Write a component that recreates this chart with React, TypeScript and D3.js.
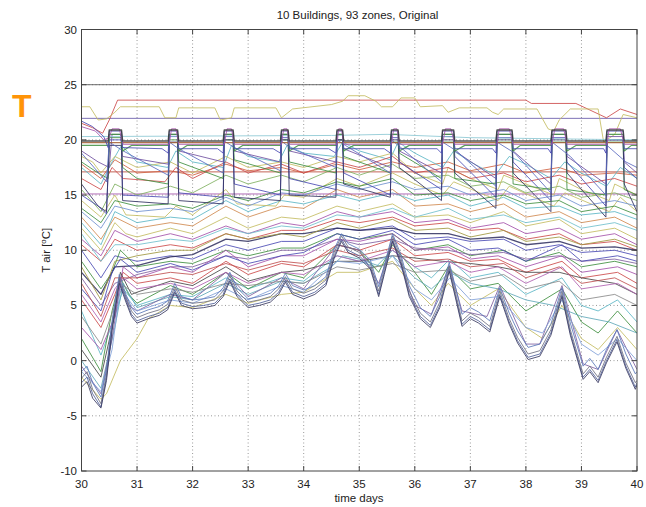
import React from "react";
import * as d3 from "d3";

type Pt = [number, number];

const xTicks = [30, 31, 32, 33, 34, 35, 36, 37, 38, 39, 40];
const yTicks = [-10, -5, 0, 5, 10, 15, 20, 25, 30];

// ---- top lines ----
const top25: Pt[] = [[30, 25], [40, 25]];
const top22: Pt[] = [[30, 21.95], [40, 21.95]];
const topRed: Pt[] = [[30, 21.5], [30.2, 21.1], [30.38, 20.6], [30.5, 21.8], [30.65, 23.6], [38.0, 23.6], [38.1, 23.3], [38.9, 23.3], [39.45, 22.0], [39.7, 22.8], [40, 22.3]];
const topYellow: Pt[] = [[30, 23.0], [30.15, 23.0], [30.3, 21.8], [30.45, 21.9], [30.6, 22.5], [30.7, 23.0], [31.4, 23.0], [31.5, 22.0], [31.7, 22.0], [31.75, 22.9], [32.4, 22.9], [32.5, 21.8], [32.7, 22.0], [32.75, 22.9], [33.5, 22.9], [33.6, 22.0], [33.8, 22.8], [34.5, 23.2], [34.7, 23.5], [34.8, 24.0], [35.1, 24.0], [35.3, 23.5], [35.4, 23.0], [35.6, 23.0], [35.75, 23.8], [36.0, 23.8], [36.1, 23.0], [36.5, 23.1], [36.6, 22.5], [36.8, 22.9], [37.3, 22.9], [37.4, 22.5], [37.5, 22.3], [37.6, 22.8], [38.2, 22.8], [38.4, 21.0], [38.5, 20.8], [38.6, 21.8], [38.8, 22.8], [39.3, 22.8], [39.4, 19.8], [39.6, 20.5], [39.75, 22.3], [40, 22.0]];

// ---- setpoint group ~20 ----
const sp1: Pt[] = [[30, 19.9], [30.48, 19.9], [30.5, 20.9], [30.72, 20.9], [30.74, 19.9], [31.56, 19.9], [31.58, 20.9], [31.73, 20.9], [31.75, 19.9], [32.55, 19.9], [32.57, 20.9], [32.73, 20.9], [32.75, 19.9], [33.58, 19.9], [33.6, 20.9], [33.72, 20.9], [33.74, 19.9], [34.58, 19.9], [34.6, 20.9], [34.7, 20.9], [34.72, 19.9], [35.56, 19.9], [35.58, 20.9], [35.7, 20.9], [35.72, 19.9], [36.48, 19.9], [36.5, 20.9], [36.7, 20.9], [36.72, 19.9], [37.46, 19.9], [37.48, 20.9], [37.75, 20.9], [37.77, 19.9], [38.45, 19.9], [38.47, 20.9], [38.72, 20.9], [38.74, 19.9], [39.44, 19.9], [39.46, 20.9], [39.75, 20.9], [39.77, 19.9], [40, 19.9]];
const sp2: Pt[] = [[30, 19.5], [30.48, 19.5], [30.5, 20.5], [30.72, 20.5], [30.74, 19.0], [30.9, 19.5], [31.56, 19.5], [31.58, 20.5], [31.73, 20.5], [31.75, 19.0], [31.9, 19.5], [32.55, 19.5], [32.57, 20.5], [32.73, 20.5], [32.75, 19.0], [32.9, 19.5], [33.58, 19.5], [33.6, 20.5], [33.72, 20.5], [33.74, 19.0], [33.9, 19.5], [34.58, 19.5], [34.6, 20.5], [34.7, 20.5], [34.72, 19.0], [34.9, 19.5], [35.56, 19.5], [35.58, 20.5], [35.7, 20.5], [35.72, 19.0], [35.9, 19.5], [36.48, 19.5], [36.5, 20.5], [36.7, 20.5], [36.72, 19.0], [36.9, 19.5], [37.46, 19.5], [37.48, 20.5], [37.75, 20.5], [37.77, 19.0], [37.9, 19.5], [38.45, 19.5], [38.47, 20.5], [38.72, 20.5], [38.74, 19.0], [38.9, 19.5], [39.44, 19.5], [39.46, 20.5], [39.75, 20.5], [39.77, 19.0], [39.9, 19.5], [40, 19.5]];
const sp3: Pt[] = [[30, 21.7], [30.2, 21.2], [30.4, 20.3], [30.48, 19.3], [30.5, 20.8], [30.72, 20.8], [30.74, 19.3], [31.45, 19.2], [31.56, 18.8], [31.58, 20.8], [31.73, 20.8], [31.75, 19.2], [32.45, 19.2], [32.55, 18.8], [32.57, 20.8], [32.73, 20.8], [32.75, 19.2], [33.45, 19.2], [33.58, 18.8], [33.6, 20.8], [33.72, 20.8], [33.74, 19.2], [34.45, 19.2], [34.58, 18.8], [34.6, 20.8], [34.7, 20.8], [34.72, 19.2], [35.45, 19.2], [35.56, 18.8], [35.58, 20.8], [35.7, 20.8], [35.72, 19.2], [36.4, 19.2], [36.48, 18.8], [36.5, 20.8], [36.7, 20.8], [36.72, 19.2], [37.4, 19.2], [37.46, 18.8], [37.48, 20.8], [37.75, 20.8], [37.77, 19.2], [38.4, 19.2], [38.45, 18.8], [38.47, 20.8], [38.72, 20.8], [38.74, 19.2], [39.4, 19.2], [39.44, 18.8], [39.46, 20.8], [39.75, 20.8], [39.77, 19.2], [40, 19.2]];
const sp4: Pt[] = [[30, 19.75], [40, 19.75]];
const sp5: Pt[] = [[30, 21.2], [30.25, 20.8], [30.4, 20.0], [30.5, 20.2], [30.55, 21.0], [30.68, 21.0], [30.75, 19.6], [31.58, 19.6], [31.62, 21.0], [31.7, 21.0], [31.75, 19.6], [32.57, 19.6], [32.62, 21.0], [32.7, 21.0], [32.75, 19.6], [33.6, 19.6], [33.64, 21.0], [33.7, 21.0], [33.74, 19.6], [34.6, 19.6], [34.63, 21.0], [34.68, 21.0], [34.72, 19.6], [35.58, 19.6], [35.62, 21.0], [35.68, 21.0], [35.72, 19.6], [36.5, 19.6], [36.55, 21.0], [36.65, 21.0], [36.72, 19.6], [37.48, 19.6], [37.52, 21.0], [37.7, 21.0], [37.77, 19.6], [38.47, 19.6], [38.52, 21.0], [38.68, 21.0], [38.74, 19.6], [39.46, 19.6], [39.5, 21.0], [39.7, 21.0], [39.77, 19.6], [40, 19.6]];
const sp6: Pt[] = [[30, 20.3], [34.5, 20.4], [35.5, 20.5], [37.0, 20.2], [40, 20.0]];

// ---- 13-19 band ----
const k17: Pt[] = [[30, 17.1], [40, 17.1]];
const k15: Pt[] = [[30, 15.1], [40, 15.1]];
const sw1: Pt[] = [[30, 15.0], [30.3, 14.0], [30.45, 13.3], [30.5, 20.0], [30.72, 20.0], [30.74, 15.0], [31.56, 14.8], [31.58, 20.3], [31.73, 20.3], [31.75, 15.2], [32.55, 14.8], [32.57, 20.3], [32.73, 20.3], [32.75, 16.0], [33.58, 15.0], [33.6, 20.2], [33.72, 20.2], [33.74, 16.5], [34.58, 15.5], [34.6, 20.0], [34.7, 20.0], [34.72, 17.0], [35.56, 15.0], [35.58, 20.2], [35.7, 20.2], [35.72, 18.0], [36.48, 15.5], [36.5, 20.3], [36.7, 20.3], [36.72, 18.5], [37.46, 14.8], [37.48, 20.2], [37.75, 20.2], [37.77, 18.0], [38.45, 14.5], [38.47, 20.2], [38.72, 20.2], [38.74, 18.0], [39.44, 14.0], [39.46, 20.0], [39.75, 20.0], [39.77, 17.5], [40, 16.5]];
const sw2: Pt[] = [[30, 18.0], [30.3, 17.0], [30.48, 16.5], [30.5, 20.2], [30.72, 20.2], [30.74, 17.5], [31.0, 16.5], [31.56, 16.0], [31.58, 20.0], [31.73, 20.0], [31.75, 18.0], [32.55, 16.5], [32.57, 20.0], [32.73, 20.0], [32.75, 18.2], [33.58, 17.0], [33.6, 20.0], [33.72, 20.0], [33.74, 18.0], [34.58, 17.0], [34.6, 20.0], [34.7, 20.0], [34.72, 18.5], [35.56, 17.0], [35.58, 19.8], [35.7, 19.8], [35.72, 18.8], [36.48, 16.5], [36.5, 19.8], [36.7, 19.8], [36.72, 16.5], [37.46, 16.0], [37.48, 19.8], [37.75, 19.8], [37.77, 16.0], [38.45, 15.5], [38.47, 19.8], [38.72, 19.8], [38.74, 15.5], [39.44, 15.0], [39.46, 19.8], [39.75, 19.8], [39.77, 15.5], [40, 15.0]];
const sw3: Pt[] = [[30, 19.0], [30.3, 18.0], [30.5, 17.5], [30.55, 20.5], [30.7, 20.5], [30.74, 18.5], [31.56, 17.8], [31.58, 20.5], [31.73, 20.5], [31.75, 19.0], [32.55, 18.0], [32.57, 20.5], [32.73, 20.5], [32.75, 19.0], [33.58, 18.0], [33.6, 20.5], [33.72, 20.5], [33.74, 19.0], [34.58, 18.0], [34.6, 20.5], [34.7, 20.5], [34.72, 19.2], [35.56, 17.5], [35.58, 20.5], [35.7, 20.5], [35.72, 19.0], [36.48, 17.0], [36.5, 20.5], [36.7, 20.5], [36.72, 19.0], [37.46, 16.5], [37.48, 20.5], [37.75, 20.5], [37.77, 19.0], [38.45, 16.0], [38.47, 20.5], [38.72, 20.5], [38.74, 18.5], [39.44, 16.0], [39.46, 20.3], [39.75, 20.3], [39.77, 18.0], [40, 17.0]];
const sw4: Pt[] = [[30, 16.0], [30.3, 14.0], [30.45, 13.5], [30.5, 19.5], [30.72, 19.5], [30.74, 14.5], [31.56, 14.2], [31.58, 19.8], [31.73, 19.8], [31.75, 14.5], [32.55, 14.2], [32.57, 20.0], [32.73, 20.0], [32.75, 14.8], [33.58, 14.5], [33.6, 20.0], [33.72, 20.0], [33.74, 15.0], [34.58, 14.8], [34.6, 20.0], [34.7, 20.0], [34.72, 16.0], [35.56, 14.8], [35.58, 20.0], [35.7, 20.0], [35.72, 17.5], [36.48, 14.5], [36.5, 20.0], [36.7, 20.0], [36.72, 17.0], [37.46, 13.8], [37.48, 20.0], [37.75, 20.0], [37.77, 17.0], [38.45, 13.5], [38.47, 20.0], [38.72, 20.0], [38.74, 17.0], [39.44, 13.0], [39.46, 20.0], [39.75, 20.0], [39.77, 16.0], [40, 13.5]];
const sw5: Pt[] = [[30, 17.5], [30.35, 16.0], [30.55, 18.0], [30.72, 19.5], [31.0, 18.0], [31.55, 17.5], [31.7, 19.0], [32.0, 18.0], [32.55, 17.5], [32.7, 19.5], [33.0, 18.5], [33.55, 18.0], [33.7, 19.5], [34.0, 18.8], [34.55, 18.5], [34.7, 19.8], [35.0, 19.0], [35.55, 18.2], [35.7, 19.8], [36.0, 18.8], [36.5, 17.5], [36.7, 19.0], [37.0, 18.0], [37.45, 16.8], [37.7, 18.5], [38.0, 17.8], [38.45, 16.5], [38.7, 18.0], [39.0, 17.0], [39.45, 15.8], [39.7, 17.5], [40, 16.5]];
const sw6: Pt[] = [[30, 18.5], [30.2, 18.0], [30.35, 17.0], [30.6, 18.5], [31.0, 17.5], [31.6, 18.0], [32.0, 17.0], [32.6, 18.5], [33, 17.5], [33.6, 18.0], [34.0, 17.5], [34.6, 18.5], [35, 18.0], [35.6, 18.8], [36, 17.0], [36.5, 16.0], [36.6, 17.5], [37.0, 16.5], [37.5, 15.5], [37.6, 16.8], [38, 16.0], [38.5, 15.0], [38.6, 16.5], [39, 15.5], [39.5, 14.5], [39.6, 16.0], [40, 15.0]];
const sw7: Pt[] = [[30, 16.5], [30.35, 15.5], [30.55, 17.5], [30.75, 16.5], [31.5, 16.2], [31.7, 17.5], [32, 16.5], [32.6, 18.0], [33, 17.0], [33.6, 17.8], [34, 17.0], [34.6, 18.0], [35, 17.5], [35.6, 18.5], [36, 17.0], [36.6, 17.5], [37, 16.5], [37.6, 17.0], [38, 16.2], [38.6, 16.8], [39, 16.0], [39.6, 16.5], [40, 15.8]];
const sw8: Pt[] = [[30, 18.8], [30.45, 16.2], [30.5, 19.8], [30.75, 19.0], [31.56, 16.8], [31.58, 19.8], [31.75, 19.2], [32.55, 17.0], [32.57, 19.9], [32.75, 19.3], [33.58, 17.2], [33.6, 19.9], [33.75, 19.3], [34.58, 17.5], [34.6, 20.0], [34.75, 19.5], [35.56, 17.0], [35.58, 20.0], [35.75, 19.3], [36.48, 16.2], [36.5, 19.8], [36.75, 19.0], [37.46, 15.8], [37.48, 19.8], [37.8, 18.8], [38.45, 15.2], [38.47, 19.8], [38.8, 18.5], [39.44, 15.0], [39.46, 19.5], [39.8, 18.0], [40, 17.5]];
const m1: Pt[] = [[30, 14.5], [30.35, 13.0], [30.6, 15.0], [30.8, 13.2], [31.5, 13.0], [31.7, 14.0], [32, 13.2], [32.6, 15.5], [32.8, 14.2], [33.5, 14.0], [33.65, 15.0], [34, 14.8], [34.6, 16.5], [35, 15.8], [35.6, 17.0], [36, 16.0], [36.5, 15.0], [36.7, 16.2], [37.5, 14.5], [37.7, 15.8], [38.5, 14.0], [38.7, 15.2], [39.5, 13.5], [39.7, 14.8], [40, 13.5]];
const m2: Pt[] = [[30, 13.5], [30.35, 12.0], [30.6, 14.0], [31, 13.5], [31.6, 13.8], [32, 13.5], [32.6, 14.8], [33, 14.0], [33.6, 15.2], [34, 15.0], [34.6, 16.0], [35, 15.5], [35.6, 16.2], [36, 15.5], [36.6, 15.8], [37, 15.0], [37.6, 15.5], [38, 14.5], [38.6, 15.0], [39, 14.0], [39.6, 14.5], [40, 14.0]];
const m3: Pt[] = [[30, 15.5], [30.35, 13.5], [30.6, 16.0], [31, 15.0], [31.6, 15.8], [32, 15.2], [32.6, 16.8], [33, 16.0], [33.6, 16.8], [34, 16.2], [34.6, 17.5], [35, 16.8], [35.6, 17.8], [36, 16.5], [36.6, 16.8], [37, 15.8], [37.6, 16.2], [38, 15.2], [38.6, 15.8], [39, 14.8], [39.6, 15.2], [40, 14.5]];
const m4: Pt[] = [[30, 17.8], [30.35, 16.5], [30.6, 18.2], [31, 17.0], [31.6, 17.2], [32, 16.8], [32.6, 17.8], [33, 17.2], [33.6, 17.5], [34, 17.0], [34.6, 17.8], [35, 17.3], [35.6, 18.0], [36, 17.5], [36.6, 18.0], [37, 17.2], [37.6, 17.8], [38, 17.0], [38.6, 17.5], [39, 16.8], [39.6, 17.0], [40, 16.8]];
const m5: Pt[] = [[30, 13.8], [30.35, 12.5], [30.6, 14.5], [31, 14.0], [31.6, 14.2], [32, 13.8], [32.6, 15.0], [33, 14.5], [33.6, 15.5], [34, 15.2], [34.6, 16.2], [35, 15.8], [35.6, 16.5], [36, 15.0], [36.6, 15.2], [37, 14.5], [37.6, 15.0], [38, 14.2], [38.6, 14.5], [39, 13.5], [39.6, 14.0], [40, 13.2]];

// ---- 8-15 band ----
const c1: Pt[] = [[30, 10.5], [30.35, 9.0], [30.6, 11.0], [31, 10.0], [31.6, 10.5], [32, 10.2], [32.6, 11.5], [33, 11.0], [33.6, 11.8], [34, 11.8], [34.6, 12.8], [35, 12.5], [35.6, 13.0], [36, 12.2], [36.6, 12.5], [37, 11.8], [37.5, 12.0], [38, 11.0], [38.6, 11.5], [39, 10.5], [39.6, 10.8], [40, 10.0]];
const c2: Pt[] = [[30, 12.0], [30.35, 10.0], [30.6, 12.5], [30.8, 11.5], [31, 11.2], [31.6, 12.0], [32, 11.5], [32.6, 13.0], [33, 12.0], [33.6, 13.0], [34, 12.8], [34.6, 14.0], [35, 13.5], [35.6, 14.2], [36, 13.0], [36.6, 13.2], [37, 12.5], [37.6, 13.5], [38, 12.2], [38.6, 12.8], [39, 11.5], [39.6, 12.0], [40, 11.0]];
const c3: Pt[] = [[30, 10.0], [30.35, 7.5], [30.6, 9.5], [31, 9.0], [31.6, 9.5], [32, 9.2], [32.6, 10.5], [33, 10.0], [33.6, 10.8], [34, 10.8], [34.6, 12.0], [35, 11.8], [35.6, 12.2], [36, 11.0], [36.6, 11.2], [37, 10.8], [37.6, 11.0], [38, 10.0], [38.6, 10.5], [39, 9.8], [39.6, 10.0], [40, 9.5]];
const c4: Pt[] = [[30, 11.0], [30.35, 9.5], [30.6, 11.8], [31, 10.8], [31.6, 11.5], [32, 11.0], [32.6, 12.2], [33, 11.5], [33.6, 12.5], [34, 12.2], [34.6, 13.5], [35, 13.0], [35.6, 13.5], [36, 12.5], [36.6, 12.8], [37, 12.0], [37.6, 12.5], [38, 11.5], [38.6, 12.0], [39, 11.0], [39.6, 11.5], [40, 10.5]];
const c5: Pt[] = [[30, 9.0], [30.35, 6.5], [30.55, 8.0], [30.7, 10.0], [31, 8.5], [31.6, 9.0], [32, 8.8], [32.6, 10.0], [33, 9.5], [33.6, 10.2], [34, 10.2], [34.6, 11.5], [35, 11.0], [35.6, 11.5], [36, 10.0], [36.6, 10.5], [37, 9.5], [37.6, 10.0], [38, 9.0], [38.6, 9.8], [39, 8.5], [39.6, 9.0], [40, 8.5]];
const c6: Pt[] = [[30, 8.0], [30.35, 6.0], [30.6, 8.5], [31, 8.6], [31.6, 9.4], [32, 9.6], [32.6, 11.0], [33, 10.8], [33.6, 11.5], [34, 11.5], [34.6, 12.0], [35, 11.8], [35.6, 12.0], [36, 11.5], [36.6, 11.5], [37, 11.0], [37.6, 11.2], [38, 10.5], [38.6, 10.8], [39, 10.2], [39.6, 10.3], [40, 10.0]];
const c7: Pt[] = [[30, 13.0], [30.35, 11.0], [30.6, 13.0], [31, 12.0], [31.6, 12.5], [32, 12.2], [32.6, 14.0], [33, 13.0], [33.6, 14.0], [34, 13.8], [34.6, 15.5], [35, 14.8], [35.6, 15.5], [36, 14.0], [36.6, 14.2], [37, 13.5], [37.6, 14.2], [38, 13.0], [38.6, 13.5], [39, 12.5], [39.6, 13.0], [40, 12.0]];
const c8: Pt[] = [[30, 12.5], [30.35, 10.5], [30.6, 13.5], [31, 12.5], [31.6, 13.0], [32, 12.8], [32.6, 14.5], [33, 13.5], [33.6, 14.5], [34, 14.2], [34.6, 15.0], [35, 14.5], [35.6, 15.2], [36, 14.5], [36.6, 15.0], [37, 14.0], [37.6, 14.8], [38, 13.8], [38.6, 14.0], [39, 13.2], [39.6, 13.5], [40, 12.8]];
const c9: Pt[] = [[30, 7.5], [30.35, 5.0], [30.6, 7.0], [31, 7.8], [31.6, 8.5], [32, 8.5], [32.6, 9.5], [33, 9.2], [33.6, 10.0], [34, 10.0], [34.6, 11.0], [35, 10.5], [35.6, 11.0], [36, 10.2], [36.6, 10.0], [37, 9.6], [37.6, 9.8], [38, 9.2], [38.6, 9.5], [39, 9.0], [39.6, 9.2], [40, 8.8]];
const c10: Pt[] = [[30, 11.5], [30.35, 9.0], [30.6, 10.5], [31, 10.5], [31.6, 11.0], [32, 10.8], [32.6, 12.0], [33, 11.5], [33.6, 12.2], [34, 12.0], [34.6, 13.2], [35, 13.0], [35.6, 13.8], [36, 13.0], [36.6, 13.8], [37, 12.8], [37.6, 13.2], [38, 12.5], [38.6, 13.0], [39, 12.0], [39.6, 12.5], [40, 11.8]];
const c11: Pt[] = [[30, 8.5], [30.35, 5.5], [30.6, 9.0], [31, 9.5], [31.6, 10.0], [32, 10.0], [32.6, 11.5], [33, 11.0], [33.6, 11.5], [34, 11.2], [34.6, 12.5], [35, 12.0], [35.6, 12.8], [36, 11.8], [36.6, 12.0], [37, 11.2], [37.6, 11.8], [38, 10.8], [38.6, 11.2], [39, 10.5], [39.6, 11.0], [40, 10.3]];

// ---- 0-12 band ----
const lo1: Pt[] = [[30, 4.5], [30.35, 0.5], [30.6, 4.0], [30.75, 6.5], [31.0, 5.0], [31.6, 6.0], [32.0, 5.8], [32.6, 7.5], [33.0, 6.5], [33.6, 7.5], [34.0, 7.2], [34.6, 9.5], [35.0, 9.0], [35.3, 8.5], [35.6, 10.0], [36.0, 8.5], [36.3, 7.5], [36.63, 9.2], [37.0, 7.5], [37.5, 8.0], [38.0, 6.0], [38.65, 7.5], [39.0, 5.0], [39.3, 4.5], [39.65, 5.5], [40, 3.5]];
const lo2: Pt[] = [[30, -1.5], [30.35, -3.5], [30.45, -3.0], [30.7, 0.0], [31.0, 2.0], [31.2, 3.8], [31.6, 5.0], [32.0, 4.8], [32.6, 6.0], [33.0, 5.2], [33.6, 6.0], [34, 6.2], [34.6, 8.0], [35, 8.0], [35.6, 9.0], [36, 6.5], [36.3, 5.0], [36.6, 7.0], [37, 5.0], [37.5, 6.5], [38, 3.0], [38.3, 2.0], [38.65, 5.0], [39, 2.0], [39.3, 1.0], [39.65, 3.0], [40, 1.0]];
const lo3: Pt[] = [[30, 2.0], [30.35, -1.0], [30.55, 4.5], [30.7, 7.5], [30.85, 6.0], [31, 5.2], [31.6, 6.8], [32, 6.0], [32.6, 8.0], [33, 6.5], [33.6, 8.0], [34, 7.5], [34.6, 10.5], [35, 10.0], [35.35, 8.0], [35.6, 10.5], [36, 8.0], [36.3, 6.0], [36.6, 8.5], [37, 6.5], [37.5, 7.0], [38, 4.5], [38.65, 6.5], [39, 3.5], [39.3, 2.5], [39.65, 4.5], [40, 2.5]];
const lo4: Pt[] = [[30, 5.5], [30.35, 3.0], [30.6, 6.0], [30.75, 8.0], [31, 7.0], [31.6, 7.5], [32, 7.0], [32.6, 9.0], [33, 7.8], [33.6, 8.8], [34, 8.5], [34.6, 10.5], [35, 10.0], [35.6, 11.0], [36, 9.5], [36.6, 9.8], [37, 9.0], [37.5, 9.2], [38, 8.0], [38.65, 9.0], [39, 7.5], [39.65, 8.0], [40, 7.0]];
const lo5: Pt[] = [[30, 3.0], [30.35, 1.0], [30.6, 4.0], [30.75, 8.5], [31, 7.5], [31.6, 8.5], [32, 8.0], [32.6, 10.0], [33, 8.5], [33.6, 9.5], [34, 9.5], [34.6, 11.0], [35, 10.8], [35.6, 11.5], [36, 10.0], [36.6, 10.3], [37, 9.2], [37.5, 9.5], [38, 8.5], [38.65, 9.5], [39, 8.0], [39.65, 8.5], [40, 7.8]];
const lo6: Pt[] = [[30, 6.5], [30.35, 4.5], [30.55, 8.0], [30.7, 9.2], [31, 8.0], [31.6, 8.8], [32, 8.2], [32.6, 9.5], [33, 8.8], [33.6, 9.5], [34, 9.8], [34.6, 11.5], [35, 11.0], [35.6, 11.8], [36, 10.5], [36.6, 11.0], [37, 10.0], [37.5, 10.2], [38, 9.0], [38.65, 10.5], [39, 9.0], [39.65, 9.5], [40, 9.0]];
const lo7: Pt[] = [[30, 1.0], [30.35, -1.5], [30.55, 3.0], [30.7, 8.0], [30.9, 6.0], [31.0, 6.2], [31.6, 7.2], [32, 6.8], [32.6, 8.5], [33, 7.2], [33.6, 8.0], [34, 8.2], [34.6, 9.0], [35, 9.0], [35.6, 9.5], [36, 9.3], [36.5, 9.0], [37, 8.8], [37.5, 8.5], [38, 8.0], [38.6, 8.0], [39, 7.5], [39.6, 7.0], [40, 6.0]];
const lo8: Pt[] = [[30, 0.0], [30.35, -2.5], [30.6, 3.0], [30.75, 7.0], [31, 4.8], [31.6, 5.8], [32, 5.5], [32.6, 7.0], [33, 6.0], [33.6, 7.2], [34, 7.0], [34.5, 8.5], [34.7, 9.5], [35, 9.2], [35.4, 8.5], [35.6, 9.5], [36, 7.5], [36.3, 6.5], [36.63, 8.0], [37, 7.0], [37.5, 6.5], [38, 5.5], [38.5, 5.0], [39, 4.0], [39.5, 3.5], [40, 2.5]];
const lo9: Pt[] = [[30, -0.5], [30.35, -3.0], [30.55, 2.0], [30.7, 7.0], [30.85, 5.0], [31, 4.5], [31.6, 6.0], [32, 5.5], [32.6, 8.0], [33, 5.8], [33.6, 7.5], [34, 6.5], [34.6, 10.5], [35, 10.0], [35.35, 7.0], [35.6, 10.8], [36, 5.0], [36.3, 4.2], [36.62, 8.6], [36.85, 4.5], [37.3, 4.0], [37.53, 6.8], [38.0, 1.5], [38.25, 1.5], [38.65, 6.8], [39.03, -0.3], [39.3, -0.8], [39.64, 2.8], [40, -0.8]];
const lo10: Pt[] = [[30, 6.0], [30.35, 3.5], [30.6, 6.5], [30.75, 7.5], [31, 6.5], [31.6, 7.0], [32, 6.5], [32.6, 8.0], [33, 7.0], [33.6, 8.0], [34, 7.8], [34.6, 9.5], [35, 9.0], [35.6, 10.0], [36, 8.5], [36.6, 9.0], [37, 8.0], [37.5, 8.5], [38, 7.0], [38.65, 8.5], [39, 6.5], [39.65, 7.0], [40, 6.0]];
const lo11: Pt[] = [[30, 4.0], [30.35, 1.5], [30.6, 5.0], [30.75, 6.8], [31, 6.0], [31.6, 6.5], [32, 6.2], [32.6, 7.0], [33, 6.8], [33.6, 7.2], [34, 7.0], [34.6, 8.5], [35, 8.2], [35.6, 8.8], [36, 8.0], [36.6, 8.2], [37, 7.2], [37.6, 7.8], [38, 6.5], [38.6, 7.2], [39, 5.5], [39.6, 6.0], [40, 5.0]];
const lo12: Pt[] = [[30, -1.0], [30.35, -2.8], [30.55, 1.0], [30.7, 6.5], [31, 4.5], [31.6, 5.5], [32, 5.2], [32.6, 6.5], [33, 5.5], [33.6, 6.8], [34, 6.2], [34.6, 9.0], [35, 8.8], [35.6, 9.5], [36, 6.5], [36.3, 5.5], [36.63, 7.5], [37, 5.5], [37.5, 5.8], [38, 3.0], [38.3, 2.5], [38.65, 5.5], [39, 1.5], [39.3, 0.5], [39.65, 2.0], [40, 0.0]];
const lo13: Pt[] = [[30, 7.0], [30.35, 4.0], [30.6, 7.5], [31, 7.5], [31.6, 8.0], [32, 7.8], [32.6, 8.8], [33, 8.2], [33.6, 9.0], [34, 8.8], [34.6, 10.0], [35, 9.5], [35.6, 10.2], [36, 9.0], [36.6, 9.2], [37, 8.5], [37.6, 8.8], [38, 7.5], [38.6, 8.5], [39, 7.0], [39.6, 7.5], [40, 6.5]];

// ---- bottom bundle ----
const e1: Pt[] = [[30, -2.0], [30.1, -1.5], [30.2, -3.0], [30.35, -4.2], [30.45, -1.5], [30.55, 3.0], [30.68, 7.2], [30.8, 5.5], [30.9, 4.2], [31.0, 3.6], [31.2, 4.0], [31.4, 4.3], [31.55, 4.8], [31.68, 6.4], [31.8, 5.2], [32.0, 4.9], [32.2, 5.0], [32.4, 5.2], [32.55, 6.0], [32.67, 7.4], [32.8, 6.0], [33.0, 5.0], [33.2, 5.2], [33.4, 5.5], [33.55, 6.2], [33.67, 7.3], [33.8, 6.2], [34.0, 5.8], [34.2, 6.2], [34.4, 7.0], [34.55, 9.5], [34.68, 11.0], [34.8, 10.0], [35.0, 9.5], [35.2, 8.5], [35.35, 6.0], [35.45, 8.0], [35.6, 11.0], [35.75, 9.0], [35.9, 6.0], [36.1, 4.0], [36.28, 3.2], [36.45, 5.0], [36.62, 8.3], [36.75, 5.5], [36.85, 3.3], [37.0, 4.0], [37.15, 3.6], [37.35, 2.8], [37.53, 6.0], [37.7, 3.5], [37.85, 1.8], [38.04, 0.3], [38.25, 0.6], [38.45, 2.5], [38.65, 6.0], [38.8, 2.5], [39.03, -1.5], [39.15, -0.8], [39.3, -1.8], [39.45, 0.0], [39.64, 1.9], [39.8, -0.5], [39.97, -2.4], [40, -2.0]];
const e2: Pt[] = [[30, -1.6], [30.1, -1.0], [30.2, -2.6], [30.35, -3.9], [30.45, -1.2], [30.55, 3.3], [30.68, 7.5], [30.8, 5.8], [30.9, 4.5], [31.0, 3.9], [31.2, 4.3], [31.4, 4.6], [31.55, 5.1], [31.68, 6.7], [31.8, 5.5], [32.0, 5.2], [32.2, 5.3], [32.4, 5.5], [32.55, 6.3], [32.67, 7.7], [32.8, 6.3], [33.0, 5.3], [33.2, 5.5], [33.4, 5.8], [33.55, 6.5], [33.67, 7.6], [33.8, 6.5], [34.0, 6.1], [34.2, 6.5], [34.4, 7.3], [34.55, 9.8], [34.68, 11.3], [34.8, 10.3], [35.0, 9.8], [35.2, 8.8], [35.35, 6.3], [35.45, 8.3], [35.6, 11.3], [35.75, 9.3], [35.9, 6.3], [36.1, 4.3], [36.28, 3.5], [36.45, 5.3], [36.62, 8.6], [36.75, 5.8], [36.85, 3.6], [37.0, 4.3], [37.15, 3.9], [37.35, 3.1], [37.53, 6.3], [37.7, 3.8], [37.85, 2.1], [38.04, 0.6], [38.25, 0.9], [38.45, 2.8], [38.65, 6.3], [38.8, 2.8], [39.03, -1.2], [39.15, -0.5], [39.3, -1.5], [39.45, 0.3], [39.64, 2.2], [39.8, -0.2], [39.97, -2.0], [40, -1.8]];
const e3: Pt[] = [[30, -1.0], [30.1, -0.5], [30.2, -2.0], [30.35, -3.3], [30.45, -0.8], [30.55, 3.6], [30.68, 7.8], [30.8, 6.0], [30.9, 4.8], [31.0, 4.2], [31.2, 4.6], [31.4, 4.9], [31.55, 5.4], [31.68, 7.0], [31.8, 5.8], [32.0, 5.5], [32.2, 5.6], [32.4, 5.8], [32.55, 6.6], [32.67, 8.0], [32.8, 6.6], [33.0, 5.6], [33.2, 5.8], [33.4, 6.1], [33.55, 6.8], [33.67, 7.9], [33.8, 6.8], [34.0, 6.4], [34.2, 6.8], [34.4, 7.6], [34.55, 10.1], [34.68, 11.5], [34.8, 10.6], [35.0, 10.1], [35.2, 9.1], [35.35, 6.7], [35.45, 8.6], [35.6, 11.5], [35.75, 9.6], [35.9, 6.8], [36.1, 4.8], [36.28, 4.0], [36.45, 5.8], [36.62, 8.9], [36.75, 6.3], [36.85, 4.2], [37.0, 4.8], [37.15, 4.4], [37.35, 3.6], [37.53, 6.6], [37.7, 4.3], [37.85, 2.7], [38.04, 1.2], [38.25, 1.5], [38.45, 3.3], [38.65, 6.6], [38.8, 3.4], [39.03, -0.5], [39.15, 0.2], [39.3, -0.8], [39.45, 1.0], [39.64, 2.8], [39.8, 0.6], [39.97, -1.2], [40, -1.0]];
const e4: Pt[] = [[30, -2.4], [30.1, -1.9], [30.2, -3.4], [30.35, -4.3], [30.45, -1.8], [30.55, 2.7], [30.68, 7.0], [30.8, 5.3], [30.9, 4.0], [31.0, 3.4], [31.2, 3.8], [31.4, 4.1], [31.55, 4.6], [31.68, 6.2], [31.8, 5.0], [32.0, 4.7], [32.2, 4.8], [32.4, 5.0], [32.55, 5.8], [32.67, 7.2], [32.8, 5.8], [33.0, 4.8], [33.2, 5.0], [33.4, 5.3], [33.55, 6.0], [33.67, 7.1], [33.8, 6.0], [34.0, 5.6], [34.2, 6.0], [34.4, 6.8], [34.55, 9.3], [34.68, 10.8], [34.8, 9.8], [35.0, 9.3], [35.2, 8.3], [35.35, 5.8], [35.45, 7.8], [35.6, 10.8], [35.75, 8.8], [35.9, 5.8], [36.1, 3.8], [36.28, 3.0], [36.45, 4.8], [36.62, 8.1], [36.75, 5.3], [36.85, 3.1], [37.0, 3.8], [37.15, 3.4], [37.35, 2.6], [37.53, 5.8], [37.7, 3.3], [37.85, 1.6], [38.04, 0.1], [38.25, 0.4], [38.45, 2.3], [38.65, 5.8], [38.8, 2.3], [39.03, -1.7], [39.15, -1.0], [39.3, -2.0], [39.45, -0.2], [39.64, 1.7], [39.8, -0.7], [39.97, -2.6], [40, -2.2]];

const BLUE = "#4a4ab4";
const GREEN = "#3f8f3f";
const RED = "#cc4a4a";
const CYAN = "#5cb6c6";
const MAG = "#a452aa";
const OLIVE = "#c4bc62";
const DARK = "#474747";

const series: { data: Pt[]; color: string; w?: number }[] = [
  { data: top25, color: "#555555" },
  { data: top22, color: "#6658a8" },
  { data: topRed, color: RED },
  { data: topYellow, color: OLIVE },
  { data: c1, color: RED }, { data: c2, color: OLIVE }, { data: c3, color: BLUE },
  { data: c4, color: MAG }, { data: c5, color: GREEN }, { data: c6, color: "#2e2e5e", w: 1.3 },
  { data: c7, color: "#d08a50" }, { data: c8, color: CYAN }, { data: c9, color: "#8060a0" },
  { data: c10, color: "#70c0cc" }, { data: c11, color: "#a09840" },
  { data: lo1, color: CYAN }, { data: lo2, color: OLIVE }, { data: lo3, color: GREEN },
  { data: lo4, color: RED }, { data: lo5, color: MAG }, { data: lo6, color: BLUE },
  { data: lo7, color: DARK }, { data: lo8, color: "#60a8b8" }, { data: lo9, color: "#8060a0" },
  { data: lo10, color: "#b060b0" }, { data: lo11, color: "#8a8a8a" }, { data: lo12, color: "#80a0d8" }, { data: lo13, color: "#c05050" },
  { data: e1, color: "#50609a" }, { data: e2, color: "#707080" }, { data: e3, color: "#5a78b8" }, { data: e4, color: "#3a3a60" },
  { data: k17, color: "#b84a3a" }, { data: k15, color: MAG },
  { data: m1, color: OLIVE }, { data: m2, color: "#7090d0" }, { data: m3, color: "#80b060" }, { data: m4, color: "#d06040" }, { data: m5, color: GREEN },
  { data: sw5, color: CYAN }, { data: sw6, color: OLIVE }, { data: sw7, color: RED },
  { data: sw1, color: BLUE }, { data: sw2, color: GREEN }, { data: sw3, color: "#7050a0" }, { data: sw4, color: "#303060" }, { data: sw8, color: "#5a6ac0" },
  { data: sp6, color: "#8cc8d4" },
  { data: sp4, color: "#a05a30", w: 1.3 },
  { data: sp2, color: GREEN, w: 1.2 },
  { data: sp3, color: BLUE },
  { data: sp5, color: MAG },
  { data: sp1, color: "#383838", w: 1.4 },
];

const W = 646;
const H = 507;
const X0 = 81.5, X1 = 637, Y0 = 29.5, Y1 = 471;

export default function App() {
  const x = d3.scaleLinear().domain([30, 40]).range([X0, X1]);
  const y = d3.scaleLinear().domain([-10, 30]).range([Y1, Y0]);
  const line = d3.line<Pt>().x((d) => x(d[0])).y((d) => y(d[1]));
  const font = "'Liberation Sans', Arial, sans-serif";
  return (
    <svg width={W} height={H} style={{ position: "absolute", left: 0, top: 0, background: "#fff" }}>
      <defs>
        <clipPath id="plot">
          <rect x={X0} y={Y0} width={X1 - X0} height={Y1 - Y0} />
        </clipPath>
      </defs>
      <rect x={X0} y={Y0} width={X1 - X0} height={Y1 - Y0} fill="#fff" />
      {xTicks.slice(1, -1).map((t) => (
        <line key={"gx" + t} x1={x(t)} x2={x(t)} y1={Y0} y2={Y1} stroke="#9a9a9a" strokeWidth={1} strokeDasharray="1,2.5" />
      ))}
      {yTicks.slice(1, -1).map((t) => (
        <line key={"gy" + t} x1={X0} x2={X1} y1={y(t)} y2={y(t)} stroke="#9a9a9a" strokeWidth={1} strokeDasharray="1,2.5" />
      ))}
      <g clipPath="url(#plot)" fill="none" strokeLinejoin="round">
        {series.map((s, i) => (
          <path key={i} d={line(s.data) || ""} stroke={s.color} strokeWidth={s.w ?? 1} strokeOpacity={0.85} />
        ))}
      </g>
      <rect x={X0} y={Y0} width={X1 - X0} height={Y1 - Y0} fill="none" stroke="#444" strokeWidth={1} />
      {xTicks.map((t) => (
        <g key={"tx" + t}>
          <line x1={x(t)} x2={x(t)} y1={Y1} y2={Y1 - 5} stroke="#444" />
          <line x1={x(t)} x2={x(t)} y1={Y0} y2={Y0 + 5} stroke="#444" />
          <text x={x(t)} y={Y1 + 17} textAnchor="middle" fontFamily={font} fontSize={11.5} fill="#222">{t}</text>
        </g>
      ))}
      {yTicks.map((t) => (
        <g key={"ty" + t}>
          <line x1={X0} x2={X0 + 5} y1={y(t)} y2={y(t)} stroke="#444" />
          <line x1={X1} x2={X1 - 5} y1={y(t)} y2={y(t)} stroke="#444" />
          <text x={X0 - 4.5} y={y(t) + 4} textAnchor="end" fontFamily={font} fontSize={11.5} fill="#222">{t}</text>
        </g>
      ))}
      <text x={357.5} y={19} textAnchor="middle" fontFamily={font} fontSize={11.5} fill="#222">10 Buildings, 93 zones, Original</text>
      <text x={359} y={502} textAnchor="middle" fontFamily={font} fontSize={11.5} fill="#222">time days</text>
      <text transform={`translate(50,${(Y0 + Y1) / 2}) rotate(-90)`} textAnchor="middle" fontFamily={font} fontSize={11.5} fill="#222">
        T air [<tspan fontSize={8} dy={-4}>o</tspan><tspan dy={4}>C]</tspan>
      </text>
      <text x={12} y={117} fontFamily={font} fontWeight="bold" fontSize={32} fill="#ff9408">T</text>
    </svg>
  );
}
